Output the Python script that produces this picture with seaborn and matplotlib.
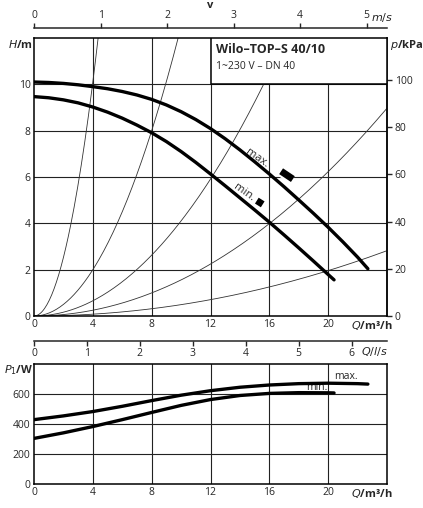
import numpy as np
import pandas as pd
import seaborn as sns
import matplotlib.pyplot as plt
import matplotlib.patheffects as pe
from matplotlib.patches import Rectangle

# Förderhöhe H (m) über Q (m³/h), max. und min. Drehzahl
q_max = [0, 1, 2, 3, 4, 5, 6, 7, 8, 9, 10, 11, 12, 13, 14, 15, 16, 17, 18, 19, 20, 21, 22, 22.7]
h_max = [10.1, 10.08, 10.04, 9.98, 9.9, 9.81, 9.69, 9.54, 9.35, 9.11, 8.82, 8.48, 8.09, 7.65,
         7.17, 6.66, 6.13, 5.58, 5.01, 4.43, 3.83, 3.2, 2.54, 2.04]
q_min = [0, 1, 2, 3, 4, 5, 6, 7, 8, 9, 10, 11, 12, 13, 14, 15, 16, 17, 18, 19, 20, 20.4]
h_min = [9.47, 9.42, 9.33, 9.2, 9.02, 8.8, 8.54, 8.24, 7.91, 7.53, 7.1, 6.63, 6.13, 5.62,
         5.1, 4.58, 4.05, 3.5, 2.94, 2.37, 1.79, 1.56]

# Leistungsaufnahme P1 (W)
q_p_max = [0, 2, 4, 6, 8, 10, 12, 14, 16, 18, 20, 22, 22.7]
p1_max = [429, 454, 483, 518, 556, 592, 622, 645, 660, 669, 672, 669, 666]
q_p_min = [0, 2, 4, 6, 8, 10, 12, 14, 16, 18, 20, 20.4]
p1_min = [304, 341, 383, 429, 477, 524, 563, 590, 604, 609, 608, 607]

sys_q_end = [4.36, 9.8, 17.1, 24.0, 24.0]
sys_h_end = [12.0, 12.0, 12.0, 8.97, 2.82]

q_ticks = [0, 4, 8, 12, 16, 20]
h_ticks = [0, 2, 4, 6, 8, 10]
p_ticks = [0, 20, 40, 60, 80, 100]
v_ticks = [0, 1, 2, 3, 4, 5]
ls_ticks = [0, 1, 2, 3, 4, 5, 6]
w_ticks = [0, 200, 400, 600]

W, H = 423, 508
sns.set_style('white')
plt.rcParams['font.family'] = ['Open Sans', 'DejaVu Sans']
plt.rcParams['font.size'] = 7.5
plt.rcParams['lines.solid_joinstyle'] = 'round'

fig = plt.figure(figsize=(W / 100, H / 100), dpi=100)
ax = fig.add_axes([34 / W, 1 - 316 / H, 353 / W, 278 / H])
ax2 = fig.add_axes([34 / W, 1 - 484 / H, 353 / W, 120 / H])

def px(x, y):
    return x / W, 1 - y / H

grid_kw = dict(color='#222222', lw=0.8, zorder=0.5)
for a in (ax, ax2):
    a.set_xlim(0, 24)
    a.set_xticks(q_ticks)
    a.tick_params(length=0, pad=2.5, labelsize=7.5)
    for s in a.spines.values():
        s.set_color('black')
        s.set_linewidth(1.1)
    for q in q_ticks[1:]:
        a.axvline(q, **grid_kw)

# --- oberes Diagramm
ax.set_ylim(0, 12)
ax.set_yticks(h_ticks)
for h in h_ticks[1:]:
    ax.axhline(h, **grid_kw)

qq = np.linspace(0, 24, 300)
for qe, he in zip(sys_q_end, sys_h_end):
    sns.lineplot(x=qq, y=he * (qq / qe) ** 2, ax=ax, color='#333333', lw=0.6, zorder=2)

ax.add_patch(Rectangle((12, 10), 12, 2, facecolor='white', edgecolor='black', lw=1.1, zorder=3))
ax.text(12.35, 11.5, 'Wilo–TOP–S 40/10', fontsize=9, fontweight='bold', va='center', zorder=5)
ax.text(12.35, 10.78, '1~230 V – DN 40', fontsize=7.5, va='center', zorder=5)

sns.lineplot(x=q_max, y=h_max, ax=ax, color='black', lw=2.4, zorder=4)
sns.lineplot(x=q_min, y=h_min, ax=ax, color='black', lw=2.4, zorder=4)

ax.text(15.15, 6.8, 'max.', rotation=-35, ha='center', va='center', fontsize=8, zorder=5)
ax.text(14.3, 5.33, 'min.', rotation=-35, ha='center', va='center', fontsize=8, zorder=5)
wb = [pe.Stroke(linewidth=8, foreground='white'), pe.Normal()]
ax.plot([16.8, 17.6], [6.25, 5.91], color='black', lw=5, solid_capstyle='butt', zorder=5, path_effects=wb)
ax.plot([15.15, 15.55], [4.98, 4.82], color='black', lw=5, solid_capstyle='butt', zorder=5, path_effects=wb)

# rechte Achse p/kPa
pax = ax.secondary_yaxis('right', functions=(lambda h: np.asarray(h) * 9.81, lambda p: np.asarray(p) / 9.81))
pax.set_yticks(p_ticks)
pax.tick_params(length=3.5, width=1, pad=2, labelsize=7.5)
pax.spines['right'].set_linewidth(1.1)

# obere Achse v in m/s
area = np.pi * 0.02 ** 2
vax = ax.secondary_xaxis(1 + 10 / 278, functions=(lambda q: np.asarray(q) / 3600 / area,
                                                  lambda v: np.asarray(v) * 3600 * area))
vax.set_xticks(v_ticks)
vax.tick_params(length=3.5, width=1, pad=1.5, labelsize=7.5)
vax.spines['top'].set_linewidth(1.1)

# Zwischenachse Q in l/s
lax = ax.secondary_xaxis(-25 / 278, functions=(lambda q: np.asarray(q) / 3.6, lambda s: np.asarray(s) * 3.6))
lax.set_xticks(ls_ticks)
lax.tick_params(length=3.5, width=1, pad=1.5, labelsize=7.5)
lax.spines['bottom'].set_linewidth(1.1)

# --- unteres Diagramm
ax2.set_ylim(0, 800)
ax2.set_yticks(w_ticks)
for w in w_ticks[1:]:
    ax2.axhline(w, **grid_kw)
sns.lineplot(x=q_p_max, y=p1_max, ax=ax2, color='black', lw=2.4, zorder=4)
sns.lineplot(x=q_p_min, y=p1_min, ax=ax2, color='black', lw=2.4, zorder=4)
ax2.text(21.2, 717, 'max.', ha='center', va='center', fontsize=7.5)
ax2.text(19.2, 643, 'min.', ha='center', va='center', fontsize=7.5)

for a in (ax, ax2):
    a.set_xlabel('')
    a.set_ylabel('')

# Achsbeschriftungen
lab = dict(fontsize=8, fontweight='bold', va='center')
fig.text(*px(210, 6), 'v', ha='center', **lab)
fig.text(*px(371, 17), '$\\it{m/s}$', ha='left', **lab)
fig.text(*px(8, 45), '$\\it{H}$/m', ha='left', **lab)
fig.text(*px(390, 45), '$\\it{p}$/kPa', ha='left', **lab)
fig.text(*px(351, 326), '$\\it{Q}$/m³/h', ha='left', **lab)
fig.text(*px(361, 352), '$\\it{Q/l/s}$', ha='left', **lab)
fig.text(*px(4, 370), '$\\it{P_1}$/W', ha='left', **lab)
fig.text(*px(351, 493), '$\\it{Q}$/m³/h', ha='left', **lab)

fig.savefig('out.png', dpi=100)
